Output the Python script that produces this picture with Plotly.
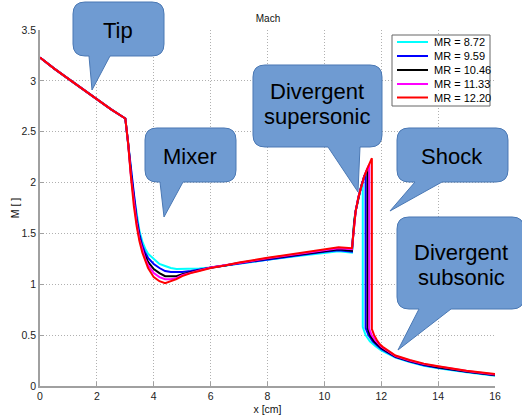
import plotly.graph_objects as go

# ---------------- data ----------------
MR_LABELS = ["MR = 8.72", "MR = 9.59", "MR = 10.46", "MR = 11.33", "MR = 12.20"]
COLORS = ["#00FFFF", "#0000FF", "#000000", "#FF00FF", "#FF0000"]

# Tip (shared by all)
x_tip = [0.0, 0.5, 1.0, 1.5, 2.0, 2.5, 3.0]
m_tip = [3.23, 3.12, 3.02, 2.92, 2.82, 2.72, 2.63]

# Mixer
x_mix = [3.1, 3.2, 3.3, 3.4, 3.5, 3.6, 3.7, 3.8, 4.0, 4.2, 4.4, 4.6, 4.8, 5.0, 5.3, 5.6, 6.0, 6.5]
m_mix_872 = [2.40, 2.12, 1.88, 1.68, 1.52, 1.42, 1.35, 1.30, 1.25, 1.20, 1.18, 1.16, 1.15, 1.15, 1.15, 1.155, 1.165, 1.185]
m_mix_959 = [2.39, 2.10, 1.85, 1.65, 1.49, 1.38, 1.31, 1.26, 1.20, 1.16, 1.13, 1.12, 1.12, 1.12, 1.13, 1.145, 1.165, 1.185]
m_mix_1046 = [2.39, 2.08, 1.82, 1.62, 1.46, 1.35, 1.28, 1.22, 1.15, 1.11, 1.08, 1.08, 1.08, 1.10, 1.12, 1.14, 1.165, 1.185]
m_mix_1133 = [2.38, 2.06, 1.80, 1.60, 1.44, 1.33, 1.25, 1.19, 1.11, 1.07, 1.05, 1.05, 1.06, 1.09, 1.11, 1.135, 1.165, 1.185]
m_mix_1220 = [2.38, 2.05, 1.77, 1.57, 1.42, 1.31, 1.23, 1.16, 1.07, 1.03, 1.01, 1.03, 1.05, 1.08, 1.11, 1.13, 1.16, 1.185]

# Constant-section duct
x_duct = [7.0, 8.0, 9.0, 10.0, 10.5, 10.97]
m_duct_872 = [1.20, 1.24, 1.275, 1.31, 1.325, 1.31]
m_duct_959 = [1.205, 1.245, 1.285, 1.32, 1.335, 1.32]
m_duct_1046 = [1.21, 1.25, 1.29, 1.325, 1.345, 1.33]
m_duct_1133 = [1.21, 1.255, 1.295, 1.33, 1.355, 1.345]
m_duct_1220 = [1.215, 1.26, 1.30, 1.34, 1.365, 1.355]

# Divergent supersonic branch (shared)
x_sup = [11.0, 11.05, 11.1, 11.2, 11.3, 11.4, 11.5, 11.6]
m_sup = [1.45, 1.62, 1.72, 1.86, 1.97, 2.06, 2.13, 2.20]

# Shock position, Mach before / after
shock_x = [11.35, 11.45, 11.52, 11.58, 11.67]
shock_m_pre = [2.01, 2.09, 2.14, 2.18, 2.24]
shock_m_post = [0.58, 0.57, 0.57, 0.56, 0.56]

# Divergent subsonic branch
x_sub_872 = [11.45, 11.6, 11.8, 12.0, 12.5, 13.0, 13.5, 14.0, 15.0, 16.0]
m_sub_872 = [0.50, 0.44, 0.39, 0.35, 0.28, 0.235, 0.20, 0.175, 0.135, 0.10]
x_sub_959 = [11.55, 11.7, 11.85, 12.0, 12.5, 13.0, 13.5, 14.0, 15.0, 16.0]
m_sub_959 = [0.50, 0.44, 0.40, 0.365, 0.285, 0.24, 0.205, 0.18, 0.14, 0.105]
x_sub_1046 = [11.6, 11.75, 11.9, 12.0, 12.5, 13.0, 13.5, 14.0, 15.0, 16.0]
m_sub_1046 = [0.50, 0.44, 0.40, 0.375, 0.29, 0.245, 0.21, 0.185, 0.143, 0.108]
x_sub_1133 = [11.66, 11.8, 11.92, 12.0, 12.5, 13.0, 13.5, 14.0, 15.0, 16.0]
m_sub_1133 = [0.50, 0.445, 0.405, 0.385, 0.295, 0.25, 0.215, 0.19, 0.147, 0.112]
x_sub_1220 = [11.75, 11.85, 11.95, 12.05, 12.5, 13.0, 13.5, 14.0, 15.0, 16.0]
m_sub_1220 = [0.50, 0.45, 0.41, 0.385, 0.30, 0.255, 0.22, 0.195, 0.15, 0.117]

X_TICKS = [0, 2, 4, 6, 8, 10, 12, 14, 16]
Y_TICKS = [0, 0.5, 1, 1.5, 2, 2.5, 3, 3.5]

M_MIX = [m_mix_872, m_mix_959, m_mix_1046, m_mix_1133, m_mix_1220]
M_DUCT = [m_duct_872, m_duct_959, m_duct_1046, m_duct_1133, m_duct_1220]
X_SUB = [x_sub_872, x_sub_959, x_sub_1046, x_sub_1133, x_sub_1220]
M_SUB = [m_sub_872, m_sub_959, m_sub_1046, m_sub_1133, m_sub_1220]

# ---------------- layout geometry (pixels) ----------------
W, H = 522, 419
L, R, T, B = 40, 495, 30, 386
FONT = "Liberation Sans, Arial, sans-serif"


def px(xp):
    return (xp - L) / (R - L)


def py(yp):
    return (B - yp) / (B - T)


fig = go.Figure()
for i in range(5):
    xs = [v for v in x_sup if v < shock_x[i]]
    ms = m_sup[:len(xs)]
    x = x_tip + x_mix + x_duct + xs + [shock_x[i], shock_x[i]] + X_SUB[i]
    m = m_tip + M_MIX[i] + M_DUCT[i] + ms + [shock_m_pre[i], shock_m_post[i]] + M_SUB[i]
    fig.add_trace(go.Scatter(x=x, y=m, mode="lines", name=MR_LABELS[i],
                             line=dict(color=COLORS[i], width=2), showlegend=False))

# ---------------- callout bubbles ----------------
FILL = "#6F9BD2"
EDGE = "#4A78B4"


def bubble(x0, y0, x1, y1, tx1, tx2, tipx, tipy, r=12):
    def P(a, b):
        return f"{px(a):.5f},{py(b):.5f}"
    d = (f"M{P(x0 + r, y0)} L{P(x1 - r, y0)} Q{P(x1, y0)} {P(x1, y0 + r)} "
         f"L{P(x1, y1 - r)} Q{P(x1, y1)} {P(x1 - r, y1)} L{P(tx2, y1)} L{P(tipx, tipy)} "
         f"L{P(tx1, y1)} L{P(x0 + r, y1)} Q{P(x0, y1)} {P(x0, y1 - r)} "
         f"L{P(x0, y0 + r)} Q{P(x0, y0)} {P(x0 + r, y0)} Z")
    return dict(type="path", xref="paper", yref="paper", path=d, fillcolor=FILL,
                line=dict(color=EDGE, width=1), layer="above")


shapes = [
    bubble(73, 2, 164, 56, 89, 110, 92, 90),
    bubble(145, 128, 236, 182, 160, 183, 164, 217),
    bubble(253, 65, 382, 147, 328, 360, 358, 192),
    bubble(397, 128, 508, 182, 415, 442, 390, 211),
    bubble(397, 217, 524, 309, 419, 451, 398, 350),
]

annotations = []


def label(text, cx, cy, size=22):
    annotations.append(dict(text=text, x=px(cx), y=py(cy), xref="paper", yref="paper",
                            showarrow=False, xanchor="center", yanchor="middle",
                            font=dict(family=FONT, size=size, color="#000000")))


label("Tip", 118, 30)
label("Mixer", 190, 156)
label("Divergent", 317, 91)
label("supersonic", 317, 116)
label("Shock", 452, 156)
label("Divergent", 461, 252)
label("subsonic", 461, 277)

# ---------------- manual legend ----------------
shapes.append(dict(type="rect", xref="paper", yref="paper",
                   x0=px(392), x1=px(490), y0=py(35), y1=py(106),
                   fillcolor="#FFFFFF", line=dict(color="#666666", width=1), layer="above"))
rows = [42, 56, 70, 84, 97.5]
for i in range(5):
    shapes.append(dict(type="line", xref="paper", yref="paper",
                       x0=px(397), x1=px(428), y0=py(rows[i]), y1=py(rows[i]),
                       line=dict(color=COLORS[i], width=2), layer="above"))
    annotations.append(dict(text=MR_LABELS[i], x=px(432), y=py(rows[i]), xref="paper", yref="paper",
                            showarrow=False, xanchor="left", yanchor="middle",
                            font=dict(family=FONT, size=11, color="#000000")))

axis_common = dict(showline=True, linecolor="#A0A0A0", linewidth=1.5,
                   ticks="inside", ticklen=4, tickcolor="#A0A0A0",
                   showgrid=True, gridcolor="#B0B0B0", griddash="1px,2px", gridwidth=1,
                   zeroline=False, tickfont=dict(family=FONT, size=10.5, color="#222222"),
                   automargin=False)

fig.update_layout(
    width=W, height=H,
    margin=dict(l=L, r=W - R, t=T, b=H - B),
    paper_bgcolor="white", plot_bgcolor="white",
    title=dict(text="Mach", x=px(268), xref="paper", y=1 - 18 / H, yref="container",
               xanchor="center", yanchor="middle",
               font=dict(family=FONT, size=10, color="#111111")),
    xaxis=dict(range=[0, 16], tickvals=X_TICKS,
               title=dict(text="x [cm]", font=dict(family=FONT, size=10.5, color="#111111"), standoff=4),
               **axis_common),
    yaxis=dict(range=[0, 3.5], tickvals=Y_TICKS,
               title=dict(text="M [ ]", font=dict(family=FONT, size=10.5, color="#111111"), standoff=0),
               **axis_common),
    shapes=shapes,
    annotations=annotations,
    showlegend=False,
)

fig.write_html("out.html", config={"displayModeBar": False},
               post_script="document.body.style.margin='0px';document.body.style.overflow='hidden';")
